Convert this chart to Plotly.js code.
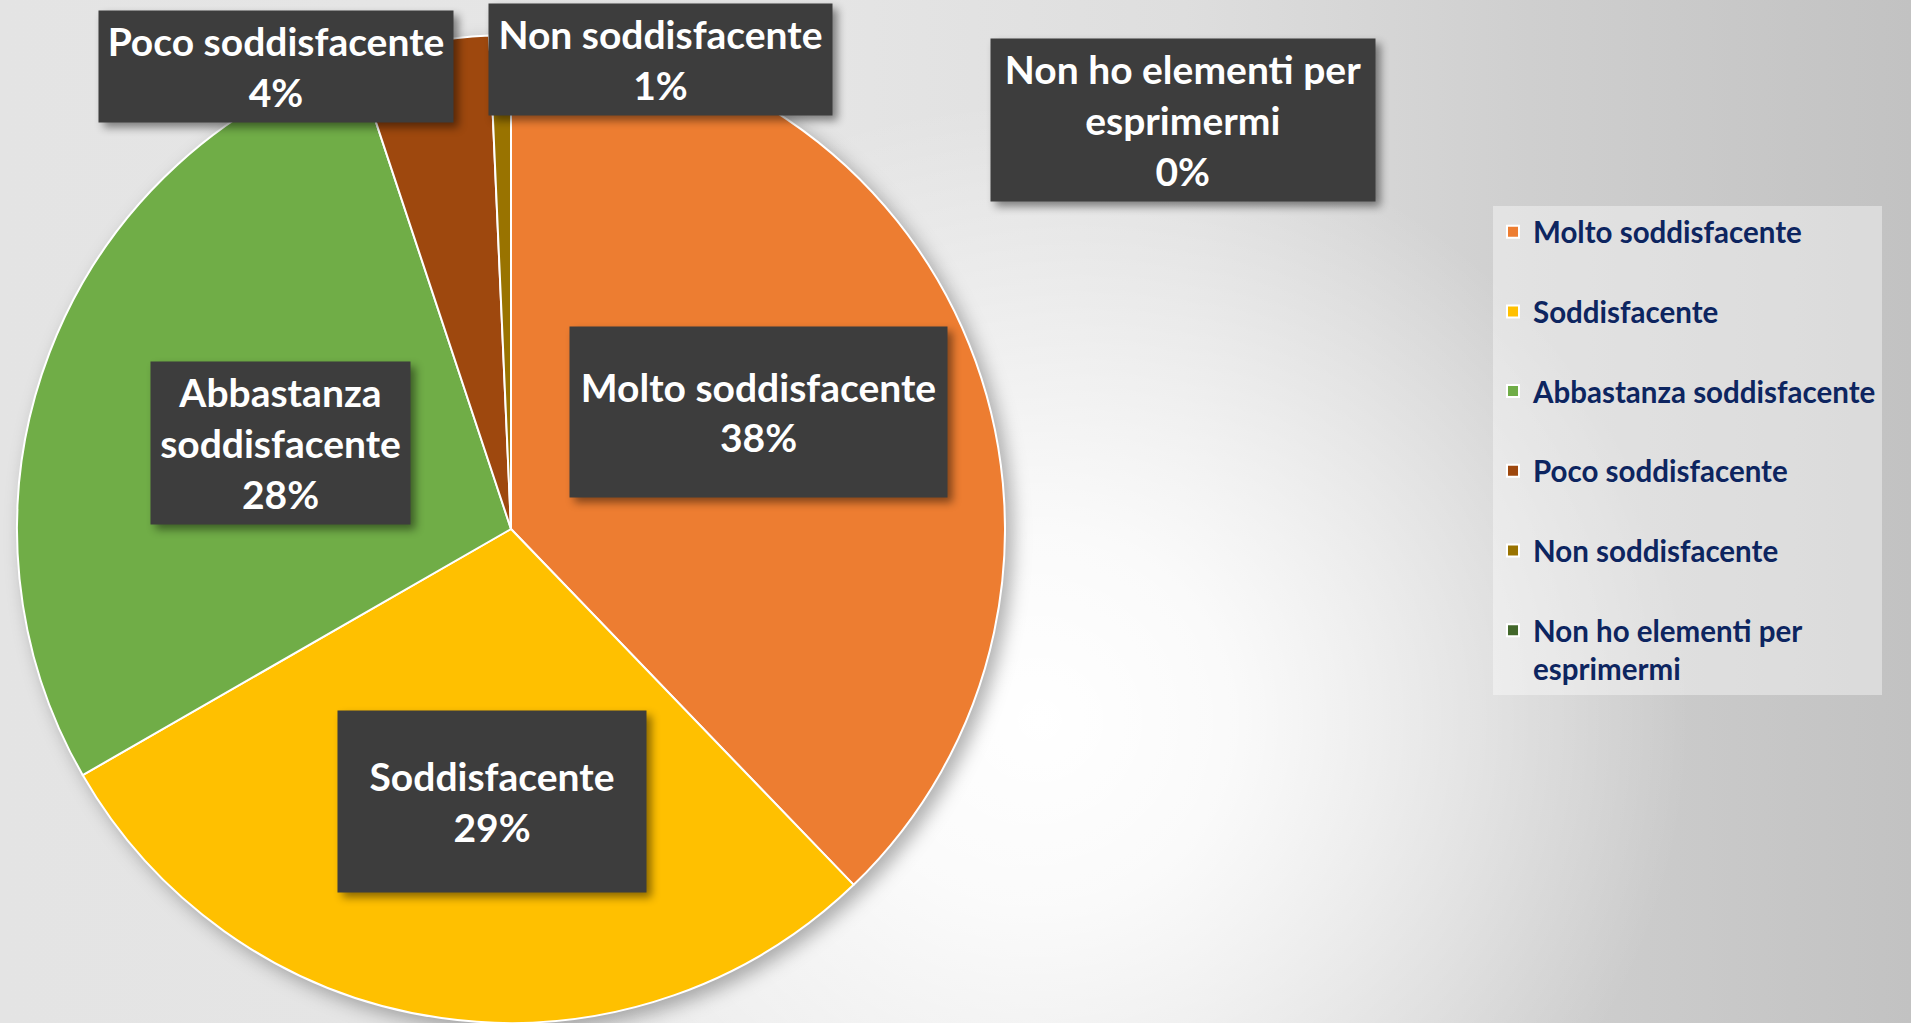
<!DOCTYPE html>
<html>
<head>
<meta charset="utf-8">
<script src="https://cdn.plot.ly/plotly-3.0.1.min.js"></script>
<style>
  html, body { margin: 0; padding: 0; }
  body {
    width: 1911px; height: 1023px; overflow: hidden;
    background:
      radial-gradient(ellipse 650px 620px at 1040px 720px, rgba(255,255,255,1) 0%, rgba(255,255,255,0.85) 30%, rgba(255,255,255,0) 100%),
      linear-gradient(90deg, #e4e4e4 0%, #e6e6e6 40%, #dedede 62%, #cfcfcf 80%, #c2c2c2 100%);
  }
  #chart { width: 1911px; height: 1023px; }
  .pielayer .trace { filter: drop-shadow(7px 7px 9px rgba(0,0,0,0.3)); }
  .annotation rect.bg { filter: drop-shadow(5px 5px 4px rgba(0,0,0,0.45)); }
</style>
</head>
<body>
<div id="chart"></div>
<script>
const categories = [
  "Molto soddisfacente",
  "Soddisfacente",
  "Abbastanza soddisfacente",
  "Poco soddisfacente",
  "Non soddisfacente",
  "Non ho elementi per esprimermi"
];
const values = [37.8, 28.9, 28.2, 4.4, 0.7, 0.0];
const colors = ["#ED7D31", "#FFC000", "#70AD47", "#9E480E", "#997300", "#43682B"];

function wrap(s, max) {
  const words = s.split(" ");
  const lines = [];
  let cur = "";
  words.forEach(w => {
    if (cur && (cur + " " + w).length > max) { lines.push(cur); cur = w; }
    else cur = cur ? cur + " " + w : w;
  });
  if (cur) lines.push(cur);
  return lines;
}

const total = values.reduce((a, b) => a + b, 0);
const pct = values.map(v => Math.round(v / total * 100));

// legend labels: wrap and pad to two lines for the item spacing
const legendLabels = categories.map(c => {
  const l = wrap(c, 24);
  if (l.length < 2) l.push("\u00a0");
  return l.join("<br>");
});

const W = 1911, H = 1023;
// label box centres and sizes in pixels (layout only)
const boxes = [
  {cx: 758, cy: 412, w: 379, h: 172},
  {cx: 492, cy: 801, w: 310, h: 183},
  {cx: 280, cy: 443, w: 261, h: 164},
  {cx: 276, cy: 67,  w: 356, h: 113},
  {cx: 660, cy: 60,  w: 345, h: 113},
  {cx: 1183, cy: 120, w: 386, h: 164}
];

const annotations = categories.map((c, i) => {
  const b = boxes[i];
  return {
    xref: "paper", yref: "paper",
    x: b.cx / W, y: 1 - b.cy / H,
    xanchor: "center", yanchor: "middle",
    showarrow: false,
    text: wrap(c, 19).join("<br>") + "<br>" + pct[i] + "%",
    width: b.w - 2, height: b.h - 2,
    bgcolor: "#3d3d3d",
    borderpad: 0,
    align: "center", valign: "middle",
    font: {family: "Lato, 'Open Sans', sans-serif", size: 39, color: "#ffffff", weight: "bold"}
  };
});

const trace = {
  type: "pie",
  labels: legendLabels,
  values: values,
  sort: false,
  direction: "clockwise",
  rotation: 0,
  textinfo: "none",
  hoverinfo: "label+percent",
  marker: {colors: colors, line: {color: "#ffffff", width: 2}},
  domain: {x: [17 / W, 1005 / W], y: [0, 988 / H]}
};

const layout = {
  width: W, height: H,
  margin: {l: 0, r: 0, t: 0, b: 0},
  paper_bgcolor: "rgba(0,0,0,0)",
  plot_bgcolor: "rgba(0,0,0,0)",
  showlegend: true,
  legend: {
    x: 1493 / W, y: 1 - 206 / H, xanchor: "left", yanchor: "top",
    bgcolor: "rgba(255,255,255,0.4)",
    borderwidth: 0,
    valign: "top",
    entrywidth: 404,
    font: {family: "Lato, 'Open Sans', sans-serif", size: 29.5, color: "#0d2560", weight: "bold"}
  },
  annotations: annotations
};

Plotly.newPlot("chart", [trace], layout, {displayModeBar: false, staticPlot: true});
</script>
</body>
</html>
